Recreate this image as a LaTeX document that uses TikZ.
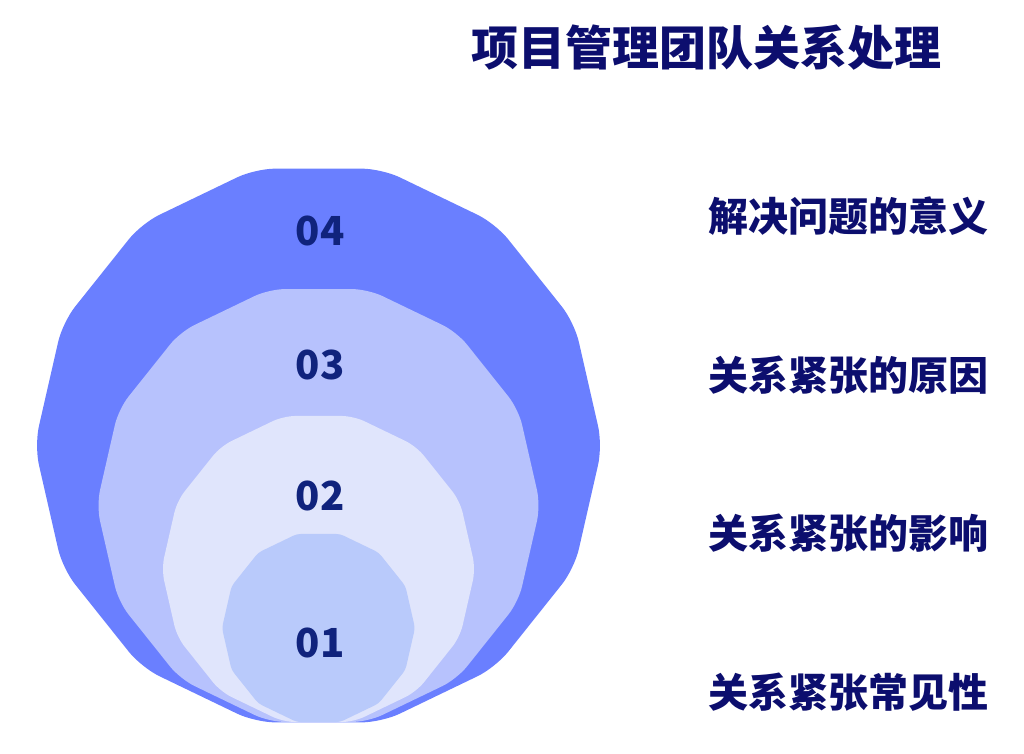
\documentclass[tikz,border=0pt]{standalone}
\usepackage{fontspec}
\newfontfamily\cjk{Noto Sans CJK SC}
\definecolor{cfour}{HTML}{6A7FFF}
\definecolor{cthree}{HTML}{B7C2FD}
\definecolor{ctwo}{HTML}{E0E5FC}
\definecolor{cone}{HTML}{B9CAFB}
\definecolor{numc}{HTML}{10237D}
\definecolor{titlec}{HTML}{0C0E6E}
\tikzset{
  numlabel/.style={text=numc, font=\cjk\bfseries\fontsize{40}{44}\selectfont, inner sep=0pt},
  itemlabel/.style={text=titlec, font=\cjk\bfseries\fontsize{40}{44}\selectfont, anchor=west, inner sep=0pt},
  titlelabel/.style={text=titlec, font=\cjk\bfseries\fontsize{47}{50}\selectfont, inner sep=0pt}
}
% #1 center, #2 radius, #3 rounding, #4 colour
\newcommand{\tetradecagon}[4]{%
  \fill[#4, rounded corners=#3] ($#1+(12.857:{#2*cos(12.857)})$)
    \foreach \k in {1,...,13} { -- ($#1+({\k*360/14}:#2)$) } -- ($#1+(0:#2)$) -- cycle;
}
\usetikzlibrary{calc}
\begin{document}
\begin{tikzpicture}[x=1pt,y=-1pt]
\useasboundingbox (0,0) rectangle (1024,753);
\tetradecagon{(318.5,445.5)}{284}{20pt}{cfour}
\tetradecagon{(318.5,505.5)}{222}{16pt}{cthree}
\tetradecagon{(318.5,569)}{157}{12pt}{ctwo}
\tetradecagon{(318.5,628)}{96.5}{4pt}{cone}
\node[numlabel] (n4) at (320,231) {04};
\node[numlabel] (n3) at (320,365) {03};
\node[numlabel] (n2) at (320,496) {02};
\node[numlabel] (n1) at (320,643) {01};
\node[titlelabel] (title) at (706,48) {项目管理团队关系处理};
\node[itemlabel] (t4) at (708,216) {解决问题的意义};
\node[itemlabel] (t3) at (708,375) {关系紧张的原因};
\node[itemlabel] (t2) at (708,533) {关系紧张的影响};
\node[itemlabel] (t1) at (708,692) {关系紧张常见性};
\end{tikzpicture}
\end{document}
